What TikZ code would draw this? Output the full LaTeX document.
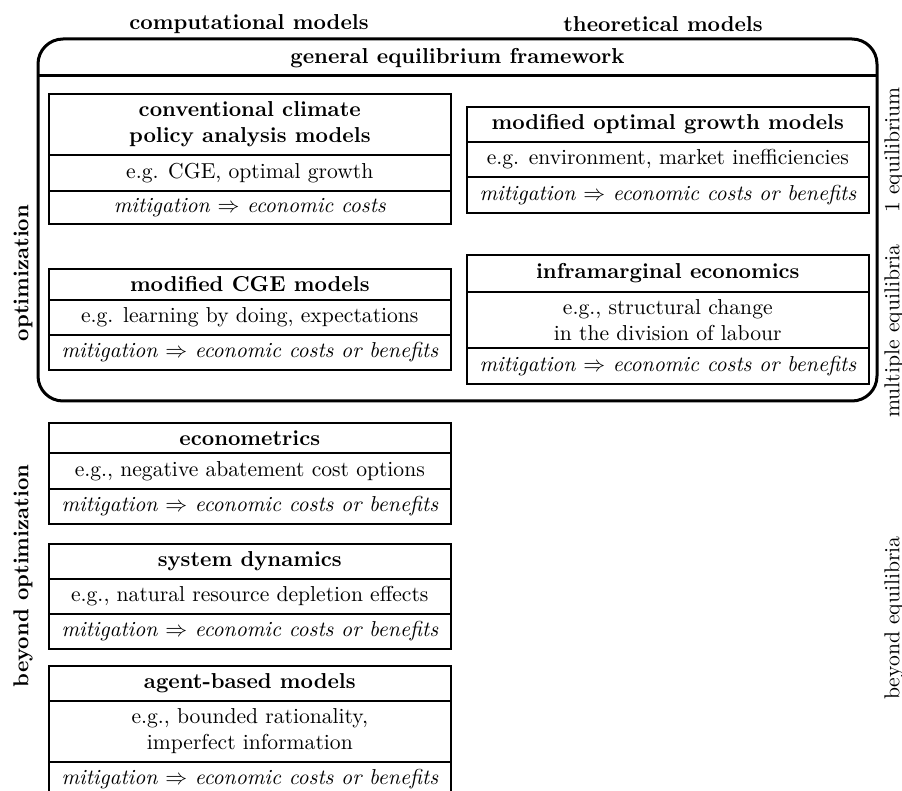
\documentclass[tikz,border=0pt]{standalone}
\usetikzlibrary{positioning}
\newcommand{\figfont}{\fontsize{10.8}{13}\selectfont}
\begin{document}
\begin{tikzpicture}[x=0.5pt,y=-0.5pt,
  cell/.style={draw,line width=0.8pt,anchor=north west,inner sep=0pt,align=center,font=\figfont},
  lbl/.style={font=\figfont\bfseries,inner sep=0pt},
  rlbl/.style={font=\figfont,inner sep=0pt,rotate=90},
  outer/.style={draw,line width=1.5pt,rounded corners=12.5pt}]
\useasboundingbox (0,0) rectangle (902,791);
\clip (0,0) rectangle (902,791);

% top labels
\node[lbl] (comp) at (249,24) {computational models};
\node[lbl] (theo) at (663,24) {theoretical models};

% outer framework
\draw[outer] (38,401) rectangle (877,39);
\coordinate (hl) at (38,76);
\coordinate (hr) at (877,76);
\draw[line width=1.5pt] (hl) -- (hr);
\node[lbl] (gef) at (457.5,58) {general equilibrium framework};

% side labels
\node[lbl,rotate=90] (opt) at (23,273) {optimization};
\node[lbl,rotate=90] (bopt) at (23,576) {beyond optimization};
\node[rlbl] (oneq) at (894,150) {1 equilibrium};
\node[rlbl] (multeq) at (894,331) {multiple equilibria};
\node[rlbl] (beq) at (894,618) {beyond equilibria};

% conventional
\node[cell,minimum width=201pt,minimum height=30.5pt] (c1) at (48,93) {\textbf{conventional climate}\\\textbf{policy analysis models}};
\node[cell,minimum width=201pt,minimum height=18pt] (c2) at (48,154) {e.g. CGE, optimal growth};
\node[cell,minimum width=201pt,minimum height=16.5pt] (c3) at (48,190) {\itshape mitigation $\Rightarrow$ economic costs};

% modified optimal growth
\node[cell,minimum width=201pt,minimum height=17.5pt] (g1) at (466,106) {\textbf{modified optimal growth models}};
\node[cell,minimum width=201pt,minimum height=17.5pt] (g2) at (466,141) {e.g. environment, market inefficiencies};
\node[cell,minimum width=201pt,minimum height=18pt] (g3) at (466,176) {\itshape mitigation $\Rightarrow$ economic costs or benefits};

% modified CGE
\node[cell,minimum width=201pt,minimum height=15.5pt] (m1) at (48,268) {\textbf{modified CGE models}};
\node[cell,minimum width=201pt,minimum height=17.5pt] (m2) at (48,299) {e.g. learning by doing, expectations};
\node[cell,minimum width=201pt,minimum height=17.5pt] (m3) at (48,334) {\itshape mitigation $\Rightarrow$ economic costs or benefits};

% inframarginal
\node[cell,minimum width=201pt,minimum height=18.5pt] (i1) at (466,254) {\textbf{inframarginal economics}};
\node[cell,minimum width=201pt,minimum height=28pt] (i2) at (466,291) {e.g., structural change\\in the division of labour};
\node[cell,minimum width=201pt,minimum height=18pt] (i3) at (466,347) {\itshape mitigation $\Rightarrow$ economic costs or benefits};

% econometrics
\node[cell,minimum width=201pt,minimum height=15pt] (e1) at (48,422) {\textbf{econometrics}};
\node[cell,minimum width=201pt,minimum height=18pt] (e2) at (48,452) {e.g., negative abatement cost options};
\node[cell,minimum width=201pt,minimum height=17.5pt] (e3) at (48,488) {\itshape mitigation $\Rightarrow$ economic costs or benefits};

% system dynamics
\node[cell,minimum width=201pt,minimum height=17.5pt] (s1) at (48,543) {\textbf{system dynamics}};
\node[cell,minimum width=201pt,minimum height=17.5pt] (s2) at (48,578) {e.g., natural resource depletion effects};
\node[cell,minimum width=201pt,minimum height=17.5pt] (s3) at (48,613) {\itshape mitigation $\Rightarrow$ economic costs or benefits};

% agent-based
\node[cell,minimum width=201pt,minimum height=17.5pt] (a1) at (48,665) {\textbf{agent-based models}};
\node[cell,minimum width=201pt,minimum height=30.5pt] (a2) at (48,700) {e.g., bounded rationality,\\imperfect information};
\node[cell,minimum width=201pt,minimum height=17.5pt] (a3) at (48,761) {\itshape mitigation $\Rightarrow$ economic costs or benefits};
\end{tikzpicture}
\end{document}
